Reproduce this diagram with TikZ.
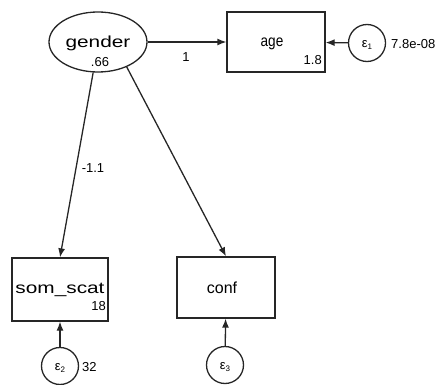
\documentclass[tikz,border=0pt]{standalone}
\usepackage{fontspec}
\usepackage{graphicx}
\setmainfont{Liberation Sans}
\usetikzlibrary{shapes.geometric,arrows.meta}
\tikzset{
  ln/.style={draw=black!85, line width=1.3pt},
  obsbox/.style={ln, rectangle, inner sep=0pt},
  latent/.style={ln, ellipse, inner sep=0pt, minimum width=98pt, minimum height=60pt},
  errc/.style={ln, circle, inner sep=0pt, minimum size=37pt},
  conn/.style={draw=black!85, line width=1.3pt, -{Latex[length=9pt,width=7pt]}},
  lab/.style={inner sep=0pt, font=\fontsize{16}{18}\selectfont},
  num/.style={inner sep=0pt, font=\fontsize{13}{15}\selectfont},
  eps/.style={inner sep=0pt, font=\fontsize{13}{14}\selectfont}
}
\begin{document}
\begin{tikzpicture}[x=1pt,y=-1pt]
\useasboundingbox (0,0) rectangle (439,385);
% latent
\node[latent] (gender) at (98,42) {};
\node[lab] (gendertxt) at (98,43) {\scalebox{1.3}[1]{gender}};
\node[num] (gendervar) at (100,62) {.66};
% observed boxes
\node[obsbox, minimum width=98pt, minimum height=60pt] (age) at (276,42) {};
\node[lab] (agetxt) at (272,44) {\scalebox{0.85}[1]{age}};
\node[num, anchor=east] (ageint) at (322,60) {1.8};
\node[obsbox, minimum width=96pt, minimum height=63pt] (som) at (60,289.5) {};
\node[lab] (somtxt) at (60,290) {\scalebox{1.3}[1]{som\_scat}};
\node[num, anchor=east] (somint) at (106,306) {18};
\node[obsbox, minimum width=98pt, minimum height=61pt] (conf) at (226,287.5) {};
\node[lab] (conftxt) at (222,288) {conf};
% errors
\node[errc] (e1) at (367,43) {};
\node[eps] (e1t) at (367,45) {ε\raisebox{-2pt}{\fontsize{8}{9}\selectfont 1}};
\node[num, anchor=west] (e1v) at (391,44) {7.8e-08};
\node[errc] (e2) at (60,366) {};
\node[eps] (e2t) at (60,368) {ε\raisebox{-2pt}{\fontsize{8}{9}\selectfont 2}};
\node[num, anchor=west] (e2v) at (82,367) {32};
\node[errc] (e3) at (225,365) {};
\node[eps] (e3t) at (225,367) {ε\raisebox{-2pt}{\fontsize{8}{9}\selectfont 3}};
% paths
\draw[conn] (gender) -- (age);
\draw[conn] (e1) -- (age);
\draw[conn] (gender.-99) -- (som.north);
\draw[conn] (gender.-41) -- (conf.north);
\draw[conn] (e2) -- (som);
\draw[conn] (e3) -- (conf);
% path labels
\node[num] (l1) at (186,57) {1};
\node[num] (l2) at (93,168) {-1.1};
\end{tikzpicture}
\end{document}
